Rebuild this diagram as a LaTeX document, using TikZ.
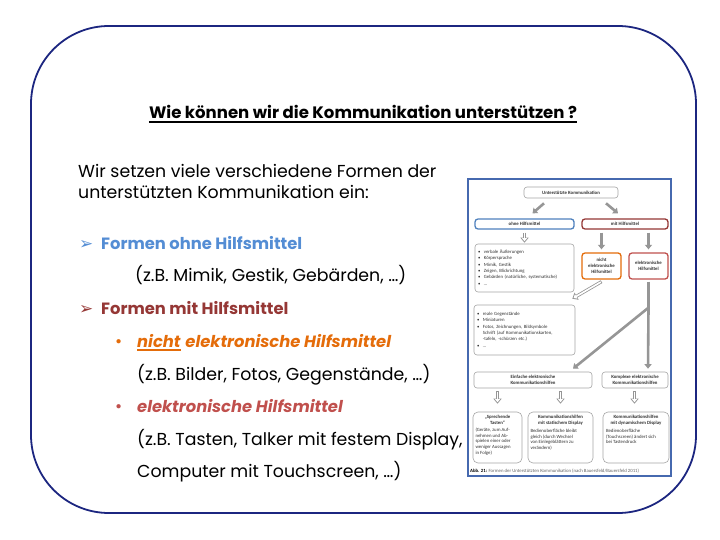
\documentclass[tikz,border=0pt]{standalone}
\usepackage{fontspec}
\setmainfont{Poppins}
\newfontfamily\figfont{Carlito}
\newfontfamily\symfont{DejaVu Sans}
\usetikzlibrary{arrows.meta,calc}

\definecolor{framenavy}{RGB}{28,38,128}
\definecolor{ohneblue}{HTML}{548DD4}
\definecolor{mitred}{HTML}{953735}
\definecolor{nichtorange}{HTML}{E46C0A}
\definecolor{elekred}{HTML}{C0504D}
\definecolor{figblue}{RGB}{70,105,175}
\definecolor{boxblue}{RGB}{79,129,189}
\definecolor{boxgray}{RGB}{165,165,165}
\definecolor{arrgray}{RGB}{150,150,150}

\tikzset{
  txt/.style={anchor=base west, inner sep=0pt, font=\fontsize{17.4}{20}\selectfont},
  head/.style={txt, font=\fontsize{16.4}{20}\selectfont\bfseries},
  headit/.style={txt, font=\fontsize{16.4}{20}\selectfont\bfseries\itshape},
  arrsym/.style={txt, font=\symfont\fontsize{17}{20}\selectfont},
  fbox/.style={draw=boxgray, line width=0.6bp, rounded corners=3bp, fill=white, inner sep=1bp,
    font=\figfont\fontsize{4.8}{6.4}\selectfont, text=black!80},
  cbox/.style={fbox, line width=1.3bp, font=\figfont\bfseries\fontsize{4.8}{5.8}\selectfont},
  grayarr/.style={line width=2.6bp, draw=arrgray, -{Triangle[width=7bp,length=4.5bp]}},
  hollow/.style={line width=3.2bp, draw=arrgray, -{Triangle[width=8bp,length=5bp]},
    postaction={draw=white, line width=1.6bp, shorten <=0.8bp, shorten >=1.5bp,
      -{Triangle[width=4.8bp,length=3bp]}}},
}

\begin{document}
\begin{tikzpicture}[x=1bp,y=-1bp]
  \useasboundingbox (0,0) rectangle (720,540);

  % outer frame
  \draw[framenavy, line width=1.8bp, rounded corners=78bp] (31,26) rectangle (696,513);

  % title
  \node[anchor=base, inner sep=0pt, font=\fontsize{16.6}{20}\selectfont\bfseries] (title) at (363,119)
    {Wie können wir die Kommunikation unterstützen ?};
  \draw[line width=1.5bp] ([yshift=-3bp]title.base west) -- ([yshift=-3bp]title.base east);

  % left text
  \node[txt] (intro1) at (78,178) {Wir setzen viele verschiedene Formen der};
  \node[txt] (intro2) at (78,199) {unterstützten Kommunikation ein:};

  \node[arrsym, text=ohneblue] (arr1) at (79,250) {➢};
  \node[head, text=ohneblue] (ohnetxt) at (101,250) {Formen ohne Hilfsmittel};
  \node[txt] (ohnebsp) at (135,282) {(z.B. Mimik, Gestik, Gebärden, …)};

  \node[arrsym, text=mitred] (arr2) at (79,314) {➢};
  \node[head, text=mitred] (mittxt) at (101,314) {Formen mit Hilfsmittel};

  \node[txt, text=nichtorange] (dot1) at (115,347) {•};
  \node[headit, text=nichtorange] (nichtwort) at (137,347) {nicht};
  \node[headit, text=nichtorange, xshift=4.5bp] (nichtrest) at (nichtwort.base east) {elektronische Hilfsmittel};
  \draw[nichtorange, line width=1.3bp] ([yshift=-3bp]nichtwort.base west) -- ([yshift=-3bp]nichtwort.base east);
  \node[txt] (nichtbsp) at (137,380) {(z.B. Bilder, Fotos, Gegenstände, …)};

  \node[txt, text=elekred] (dot2) at (115,412) {•};
  \node[headit, text=elekred] (elektxt) at (137,412) {elektronische Hilfsmittel};
  \node[txt] (elekbsp1) at (137,445) {(z.B. Tasten, Talker mit festem Display,};
  \node[txt] (elekbsp2) at (137,477) {Computer mit Touchscreen, …)};

  % figure on the right
  \draw[figblue, line width=1.3bp, fill=white] (468,179) rectangle (671,476);

  \node[fbox, minimum width=94bp, minimum height=11bp, font=\figfont\bfseries\fontsize{4.8}{5.8}\selectfont]
    (uk) at (571,192.5) {Unterstützte Kommunikation};
  \node[cbox, draw=boxblue, minimum width=99bp, minimum height=10bp] (ohne) at (524.5,224) {ohne Hilfsmittel};
  \node[cbox, draw=mitred, minimum width=86bp, minimum height=10bp] (mit) at (625,224) {mit Hilfsmittel};

  \node[fbox, minimum width=99bp, minimum height=48bp, text width=93bp] (list1) at (524.5,268) {%
    \begin{tabular}{@{}l@{\hspace{3.5bp}}l@{}}
      \textbullet & verbale Äußerungen\\
      \textbullet & Körpersprache\\
      \textbullet & Mimik, Gestik\\
      \textbullet & Zeigen, Blickrichtung\\
      \textbullet & Gebärden (natürliche, systematische)\\
      \textbullet & …
    \end{tabular}};

  \node[cbox, draw=nichtorange, minimum width=39bp, minimum height=26bp, align=center] (nicht) at (601.5,266)
    {nicht\\elektronische\\Hilfsmittel};
  \node[cbox, draw=elekred, minimum width=39bp, minimum height=26bp, align=center] (elek) at (648.5,266)
    {elektronische\\Hilfsmittel};

  \node[fbox, minimum width=101bp, minimum height=50bp, text width=95bp] (list2) at (524.5,330) {%
    \begin{tabular}{@{}l@{\hspace{3.5bp}}p{85bp}@{}}
      \textbullet & reale Gegenstände\\
      \textbullet & Miniaturen\\
      \textbullet & Fotos, Zeichnungen, Bildsymbole\newline Schrift (auf Kommunikationskarten,\newline -tafeln, -schürzen etc.)\\
      \textbullet & …
    \end{tabular}};

  \node[fbox, minimum width=118bp, minimum height=16bp, align=center, font=\figfont\bfseries\fontsize{4.8}{5.8}\selectfont]
    (einf) at (533,380) {Einfache elektronische\\Kommunikationshilfen};
  \node[fbox, minimum width=66bp, minimum height=16bp, align=center, font=\figfont\bfseries\fontsize{4.8}{5.8}\selectfont]
    (kompl) at (635,380) {Komplexe elektronische\\Kommunikationshilfen};

  \node[fbox, minimum width=49bp, minimum height=51bp, rounded corners=5bp, font=\figfont\fontsize{4.8}{5.8}\selectfont]
    (tasten) at (497.5,437.5) {\parbox[c][45bp][t]{44bp}{%
      {\centering\bfseries „Sprechende\\Tasten“\par}\vspace{1.5bp}%
      {\raggedright (Geräte, zum Auf-\\nehmen und Ab-\\spielen einer oder\\weniger Aussagen\\in Folge)\par}}};
  \node[fbox, minimum width=65bp, minimum height=51bp, rounded corners=5bp, font=\figfont\fontsize{4.8}{5.8}\selectfont]
    (statisch) at (560.5,437.5) {\parbox[c][45bp][t]{60bp}{%
      {\centering\bfseries Kommunikationshilfen\\mit statischem Display\par}\vspace{2.5bp}%
      {\raggedright Bedienoberfläche bleibt\\gleich (durch Wechsel\\von Einlegeblättern zu\\verändern)\par}}};
  \node[fbox, minimum width=66bp, minimum height=51bp, rounded corners=5bp, font=\figfont\fontsize{4.8}{5.8}\selectfont]
    (dynamisch) at (636,437.5) {\parbox[c][45bp][t]{60bp}{%
      {\centering\bfseries Kommunikationshilfen\\mit dynamischem Display\par}\vspace{2.5bp}%
      {\raggedright Bedienoberfläche\\(Touchscreen) ändert sich\\bei Tastendruck\par}}};

  \node[anchor=base west, inner sep=0pt, font=\figfont\fontsize{4.8}{5.8}\selectfont, text=black!60] (cap) at (470,472)
    {\textcolor{black}{\bfseries Abb. 21:} Formen der Unterstützten Kommunikation (nach Bauersfeld/Bauersfeld 2011)};

  % arrows of the figure
  \draw[grayarr] ([xshift=-27bp,yshift=-5bp]uk.south) -- ([xshift=8bp,yshift=5bp]ohne.north);
  \draw[grayarr] ([xshift=35bp,yshift=-5bp]uk.south) -- ([xshift=-7bp,yshift=5bp]mit.north);
  \draw[hollow] ([yshift=-3bp]ohne.south) -- ([yshift=1bp]list1.north);
  \draw[grayarr] ([yshift=-3bp]nicht.north |- mit.south) -- ([yshift=3bp]nicht.north);
  \draw[grayarr] ([yshift=-3bp]elek.north |- mit.south) -- ([yshift=3bp]elek.north);
  \draw[hollow] ([yshift=-2bp]nicht.south) -- ([xshift=-3bp,yshift=6bp]list2.north east);
  \coordinate (branch) at ([yshift=-28bp]elek.south);
  \draw[line width=2.6bp, draw=arrgray] ([yshift=-2bp]elek.south) -- (branch);
  \draw[grayarr] (branch) -- ([xshift=13bp,yshift=3bp]kompl.north);
  \draw[grayarr] (branch) -- ([xshift=40bp,yshift=3bp]einf.north);
  \draw[hollow] ([yshift=-3bp]tasten.north |- einf.south) -- ([yshift=8bp]tasten.north);
  \draw[hollow] ([yshift=-3bp]statisch.north |- einf.south) -- ([yshift=8bp]statisch.north);
  \draw[hollow] ([xshift=-1.5bp,yshift=-3bp]dynamisch.north |- kompl.south) -- ([xshift=-1.5bp,yshift=8bp]dynamisch.north);
\end{tikzpicture}
\end{document}
